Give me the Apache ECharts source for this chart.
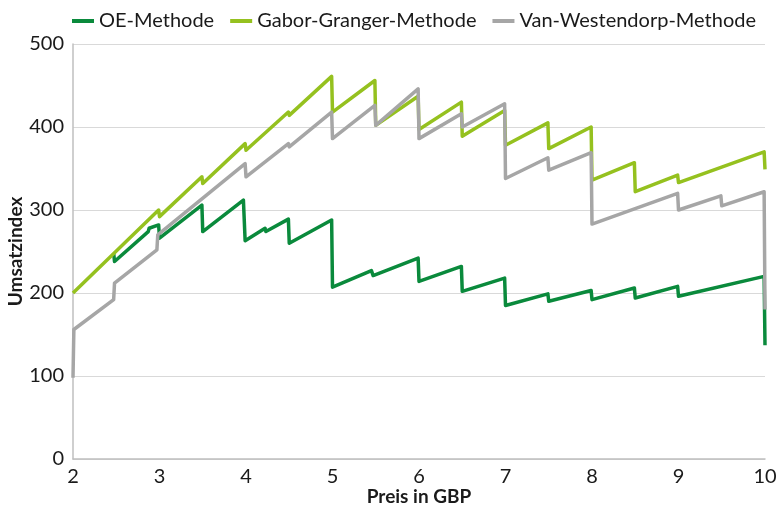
<!DOCTYPE html>
<html>
<head>
<meta charset="utf-8">
<script src="https://cdn.jsdelivr.net/npm/echarts@6/dist/echarts.min.js"></script>
<style>
html, body { margin: 0; padding: 0; background: #fff; }
#main { width: 776px; height: 506px; }
</style>
</head>
<body>
<div id="main"></div>
<script>
// Preis / Umsatzindex Paare
const oeMethode = [
  [2.47, 248], [2.48, 238], [2.87, 274], [2.88, 278], [2.99, 282], [3, 266],
  [3.49, 306], [3.5, 274], [3.97, 312], [3.99, 263], [4.22, 278], [4.23, 274],
  [4.49, 289], [4.5, 260], [4.99, 288], [5, 207], [5.45, 227], [5.47, 221],
  [5.99, 242], [6, 214], [6.49, 232], [6.5, 202], [6.99, 218], [7, 185],
  [7.49, 199], [7.5, 190], [7.99, 203], [8, 192], [8.49, 206], [8.5, 194],
  [8.99, 208], [9, 196], [9.99, 220], [10, 137]
]
const gaborGranger = [
  [2, 200], [2.99, 300], [3, 292], [3.49, 340], [3.5, 332], [3.99, 380],
  [4, 372], [4.49, 418], [4.5, 414], [4.99, 461], [5, 418], [5.49, 456],
  [5.5, 402], [5.99, 437], [6, 397], [6.49, 430], [6.5, 389], [6.99, 420],
  [7, 378], [7.49, 405], [7.5, 374], [7.99, 400], [8, 336], [8.49, 357],
  [8.5, 322], [8.99, 342], [9, 333], [9.99, 370], [10, 349]
]
const vanWestendorp = [
  [2, 98], [2.01, 156], [2.47, 192], [2.48, 212], [2.97, 252], [2.98, 270],
  [3.99, 356], [4, 340], [4.49, 380], [4.5, 376], [4.99, 418], [5, 386],
  [5.49, 426], [5.5, 402], [5.99, 446], [6, 386], [6.49, 416], [6.5, 400],
  [6.99, 428], [7, 338], [7.49, 363], [7.5, 348], [7.99, 369], [8, 283],
  [8.99, 320], [9, 300], [9.49, 317], [9.5, 305], [9.99, 322], [10, 180]
]
const seriesNames = ['OE-Methode', 'Gabor-Granger-Methode', 'Van-Westendorp-Methode']
const seriesColors = ['#0a8a3c', '#95c11f', '#a6a6a6']

const font = 'Lato'
const chart = echarts.init(document.getElementById('main'))

function lineSeries (i, data) {
  return {
    name: seriesNames[i],
    type: 'line',
    data: data,
    showSymbol: false,
    color: seriesColors[i],
    lineStyle: { width: 3.5, color: seriesColors[i], join: 'round' }
  }
}

chart.setOption({
  animation: false,
  textStyle: { fontFamily: font },
  legend: {
    left: 67,
    right: 0,
    top: 6,
    itemWidth: 22,
    itemHeight: 4,
    itemGap: 16,
    icon: 'rect',
    textStyle: { fontSize: 20, color: '#1a1a1a', fontFamily: font },
    data: seriesNames
  },
  grid: { left: 73, right: 11, top: 44, bottom: 47, containLabel: false, outerBoundsMode: 'none' },
  xAxis: {
    type: 'value',
    min: 2,
    max: 10,
    interval: 1,
    name: 'Preis in GBP',
    nameLocation: 'middle',
    nameGap: 28,
    nameMoveOverlap: false,
    nameTextStyle: { fontSize: 19, fontWeight: 'bold', color: '#1a1a1a' },
    axisLine: { lineStyle: { color: '#bfbfbf', width: 1.5 } },
    axisTick: { show: false },
    splitLine: { show: false },
    axisLabel: { fontSize: 20, color: '#1a1a1a', margin: 8 }
  },
  yAxis: {
    type: 'value',
    min: 0,
    max: 500,
    interval: 100,
    name: 'Umsatzindex',
    nameLocation: 'middle',
    nameGap: 48,
    nameMoveOverlap: false,
    nameTextStyle: { fontSize: 19, fontWeight: 'bold', color: '#1a1a1a' },
    axisLine: { show: true, lineStyle: { color: '#bfbfbf', width: 1.5 } },
    axisTick: { show: false },
    splitLine: { lineStyle: { color: '#d9d9d9', width: 1 } },
    axisLabel: { fontSize: 20, color: '#1a1a1a', margin: 9 }
  },
  series: [
    lineSeries(0, oeMethode),
    lineSeries(1, gaborGranger),
    lineSeries(2, vanWestendorp)
  ]
})
</script>
</body>
</html>
